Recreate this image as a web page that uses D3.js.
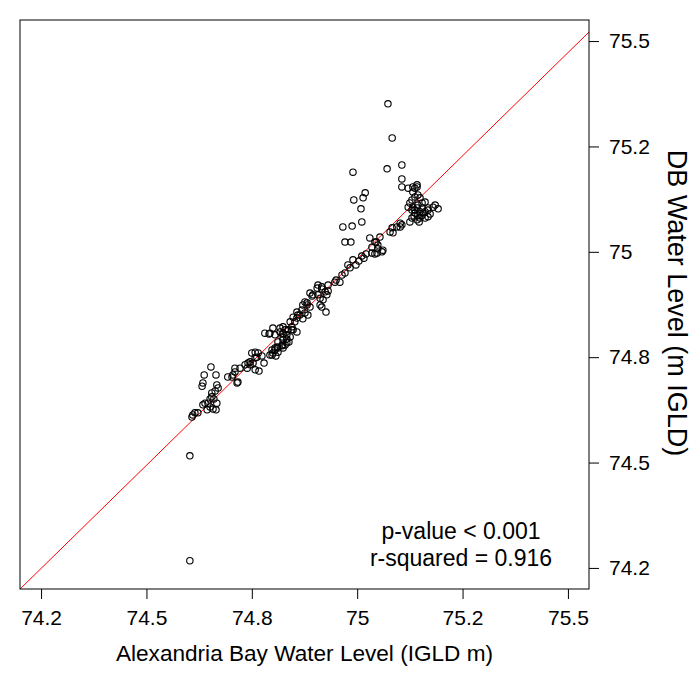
<!DOCTYPE html>
<html>
<head>
<meta charset="utf-8">
<script src="https://cdn.jsdelivr.net/npm/d3@7"></script>
<style>
  html, body { margin: 0; padding: 0; background: #fff; }
  svg { display: block; }
  text { font-family: "Liberation Sans", Arial, sans-serif; fill: #000; }
</style>
</head>
<body>
<div id="chart"></div>
<script>
// Alexandria Bay water level (IGLD m)
const abLevel = [
  74.603, 74.603, 74.653, 74.665, 74.637, 74.634, 74.632, 74.667, 74.670, 74.663,
  74.655, 74.655, 74.651, 74.660, 74.639, 74.634, 74.646, 74.667, 74.651, 74.658,
  74.665, 74.644, 74.615, 74.610, 74.608, 74.622, 74.693, 74.705, 74.710, 74.710,
  74.717, 74.715, 74.703, 74.734, 74.741, 74.753, 74.758, 74.746, 74.722, 74.765,
  74.774, 74.758, 74.779, 74.767, 74.739, 74.746, 74.791, 74.805, 74.817, 74.824,
  74.833, 74.838, 74.829, 74.822, 74.812, 74.805, 74.798, 74.807, 74.829, 74.845,
  74.857, 74.931, 74.916, 74.907, 74.905, 74.924, 74.888, 74.895, 74.907, 74.928,
  74.912, 74.919, 74.876, 74.881, 74.871, 74.912, 74.916, 74.888, 74.869, 74.857,
  74.859, 74.876, 74.883, 74.848, 74.857, 74.841, 74.852, 74.845, 74.848, 74.836,
  74.824, 74.817, 74.800, 74.781, 74.793, 74.824, 74.822, 74.833, 74.841, 74.824,
  74.812, 74.833, 74.822, 74.810, 74.805, 74.824, 74.798, 74.812, 74.800, 74.793,
  74.758, 74.750, 74.762, 74.985, 75.045, 75.049, 75.059, 75.042, 75.021, 75.016,
  75.004, 74.997, 74.983, 74.971, 74.964, 74.950, 74.959, 74.947, 74.916, 74.931,
  74.893, 74.881, 74.926, 74.871, 74.864, 75.073, 75.083, 75.106, 75.071, 74.990,
  75.106, 75.121, 75.137, 75.142, 75.019, 75.014, 74.992, 75.009, 75.011, 74.988,
  74.966, 74.971, 75.106, 75.102, 75.083, 75.078, 75.085, 75.030, 75.054, 75.042,
  75.049, 75.035, 75.061, 75.047, 75.035, 75.011, 74.990, 74.978, 75.130, 75.137,
  75.144, 75.161, 75.154, 75.185, 75.192, 75.168, 75.130, 75.137, 75.144, 75.130,
  75.154, 75.161, 75.142, 75.132, 75.125, 75.106, 75.132, 75.149, 75.168, 75.156,
  75.149, 75.142, 75.125, 75.102, 75.094, 75.142, 75.132, 75.180, 75.168, 75.121,
  75.137, 75.149, 75.144, 75.154, 75.135, 75.147, 75.161, 75.173
];

// DB water level (m IGLD)
const dbLevel = [
  74.267, 74.516, 74.727, 74.708, 74.708, 74.689, 74.681, 74.684, 74.677, 74.670,
  74.665, 74.656, 74.651, 74.651, 74.641, 74.637, 74.641, 74.641, 74.632, 74.627,
  74.625, 74.625, 74.618, 74.613, 74.608, 74.618, 74.703, 74.708, 74.715, 74.724,
  74.691, 74.689, 74.703, 74.732, 74.736, 74.736, 74.720, 74.732, 74.724, 74.760,
  74.753, 74.748, 74.736, 74.717, 74.724, 74.739, 74.805, 74.803, 74.810, 74.805,
  74.793, 74.786, 74.779, 74.777, 74.772, 74.767, 74.755, 74.753, 74.815, 74.815,
  74.810, 74.921, 74.917, 74.921, 74.914, 74.905, 74.902, 74.898, 74.898, 74.898,
  74.890, 74.886, 74.881, 74.879, 74.874, 74.874, 74.869, 74.869, 74.862, 74.857,
  74.850, 74.855, 74.850, 74.845, 74.843, 74.834, 74.834, 74.822, 74.815, 74.815,
  74.822, 74.819, 74.819, 74.807, 74.807, 74.807, 74.798, 74.803, 74.798, 74.791,
  74.786, 74.784, 74.779, 74.774, 74.772, 74.772, 74.767, 74.762, 74.760, 74.755,
  74.762, 74.760, 74.750, 75.023, 75.023, 75.007, 75.000, 74.995, 74.995, 74.985,
  74.978, 74.969, 74.962, 74.950, 74.945, 74.933, 74.928, 74.928, 74.912, 74.907,
  74.895, 74.874, 74.857, 74.841, 74.850, 75.351, 75.270, 75.206, 75.197, 75.189,
  75.173, 75.151, 75.151, 75.154, 75.140, 75.128, 75.123, 75.102, 75.071, 75.061,
  75.059, 75.023, 75.064, 75.059, 75.057, 75.047, 75.045, 75.033, 75.035, 75.023,
  75.016, 75.011, 75.004, 74.997, 74.997, 74.990, 74.981, 74.969, 75.123, 75.130,
  75.135, 75.118, 75.116, 75.111, 75.102, 75.104, 75.099, 75.092, 75.087, 75.080,
  75.087, 75.095, 75.104, 75.106, 75.116, 75.154, 75.154, 75.128, 75.099, 75.092,
  75.080, 75.076, 75.071, 75.068, 75.059, 75.159, 75.142, 75.106, 75.083, 75.106,
  75.099, 75.095, 75.111, 75.104, 75.085, 75.071, 75.080, 75.090
];

const xTickValues = [74.25, 74.5, 74.75, 75, 75.25, 75.5];
const xTickLabels = ["74.2", "74.5", "74.8", "75", "75.2", "75.5"];
const yTickValues = [74.25, 74.5, 74.75, 75, 75.25, 75.5];
const yTickLabels = ["74.2", "74.5", "74.8", "75", "75.2", "75.5"];
const fitCoef = [1.558, 0.979]; // intercept, slope of fitted line
const statLines = ["p-value < 0.001", "r-squared = 0.916"];
const xTitle = "Alexandria Bay Water Level (IGLD m)";
const yTitle = "DB Water Level (m IGLD)";

const W = 700, H = 700;
const plot = { left: 20, top: 20, right: 589, bottom: 589 };
const domain = [74.2, 75.55];
const tickFont = 21, xTitleFont = 22.6, yTitleFont = 27, statFont = 23;

const svg = d3.select("#chart").append("svg")
  .attr("width", W).attr("height", H);

const x = d3.scaleLinear().domain(domain).range([plot.left, plot.right]);
const y = d3.scaleLinear().domain(domain).range([plot.bottom, plot.top]);

svg.append("defs").append("clipPath").attr("id", "clip")
  .append("rect")
  .attr("x", plot.left).attr("y", plot.top)
  .attr("width", plot.right - plot.left).attr("height", plot.bottom - plot.top);

// fitted line
const fitData = domain.map(v => ({ xv: v, yv: fitCoef[0] + fitCoef[1] * v }));
svg.append("path")
  .datum(fitData)
  .attr("clip-path", "url(#clip)")
  .attr("fill", "none")
  .attr("stroke", "#ff0000")
  .attr("stroke-width", 1)
  .attr("d", d3.line().x(d => x(d.xv)).y(d => y(d.yv)));

// points
const pts = abLevel.map((v, i) => ({ xv: v, yv: dbLevel[i] }));
svg.append("g")
  .selectAll("circle")
  .data(pts)
  .join("circle")
  .attr("cx", d => x(d.xv))
  .attr("cy", d => y(d.yv))
  .attr("r", 3.2)
  .attr("fill", "none")
  .attr("stroke", "#000")
  .attr("stroke-width", 1.1);

// box
svg.append("rect")
  .attr("x", plot.left).attr("y", plot.top)
  .attr("width", plot.right - plot.left).attr("height", plot.bottom - plot.top)
  .attr("fill", "none").attr("stroke", "#000").attr("stroke-width", 1);

// x axis
const xAxis = svg.append("g")
  .attr("transform", `translate(0,${plot.bottom})`)
  .call(d3.axisBottom(x).tickValues(xTickValues)
    .tickFormat((d, i) => xTickLabels[i]).tickSize(10).tickPadding(11));
xAxis.select(".domain").remove();
xAxis.selectAll("line").attr("stroke", "#000");
xAxis.selectAll("text").attr("font-size", tickFont)
  .attr("font-family", "'Liberation Sans', Arial, sans-serif").attr("fill", "#000");

// y axis (right)
const yAxis = svg.append("g")
  .attr("transform", `translate(${plot.right},0)`)
  .call(d3.axisRight(y).tickValues(yTickValues)
    .tickFormat((d, i) => yTickLabels[i]).tickSize(10).tickPadding(10));
yAxis.select(".domain").remove();
yAxis.selectAll("line").attr("stroke", "#000");
yAxis.selectAll("text").attr("font-size", tickFont)
  .attr("font-family", "'Liberation Sans', Arial, sans-serif").attr("fill", "#000");

// titles
svg.append("text")
  .attr("x", (plot.left + plot.right) / 2).attr("y", 661)
  .attr("text-anchor", "middle").attr("font-size", xTitleFont)
  .text(xTitle);

svg.append("text")
  .attr("transform", `translate(668,303) rotate(90)`)
  .attr("text-anchor", "middle").attr("font-size", yTitleFont)
  .text(yTitle);

// stats annotation
svg.append("g").selectAll("text")
  .data(statLines)
  .join("text")
  .attr("x", 461)
  .attr("y", (d, i) => 539 + i * 27)
  .attr("text-anchor", "middle")
  .attr("font-size", statFont)
  .text(d => d);
</script>
</body>
</html>
